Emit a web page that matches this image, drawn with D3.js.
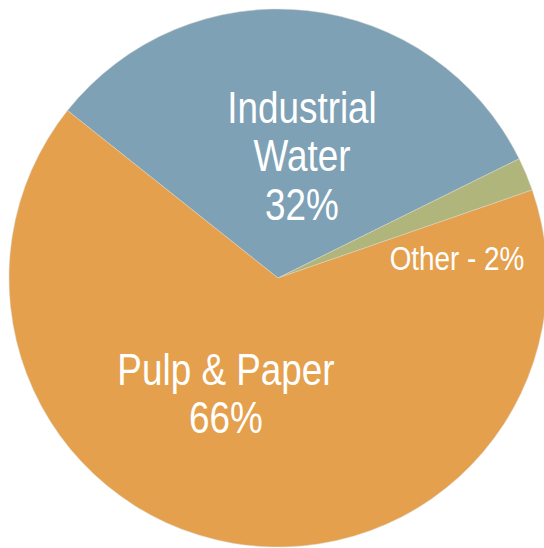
<!DOCTYPE html>
<html>
<head>
<meta charset="utf-8">
<script src="https://cdn.jsdelivr.net/npm/d3@7"></script>
<style>
  html, body { margin: 0; padding: 0; background: #fff; }
  svg { display: block; }
  text { font-family: "Liberation Sans", Arial, sans-serif; fill: #fff; }
</style>
</head>
<body>
<svg id="chart" width="544" height="548"></svg>
<script>
// Water use by sector (percent of total)
const categories = ["Industrial Water", "Other", "Pulp & Paper"];
const values = [32, 2, 66];
const colors = ["#7fa1b6", "#b0b57b", "#e4a04d"];
// label text lines per slice
const labelLines = [["Industrial", "Water", "32%"], ["Other - 2%"], ["Pulp & Paper", "66%"]];

const width = 544, height = 548;
const cx = 278, cy = 278, radius = 269;
const startDeg = -51.5;
const narrow = 0.82; // horizontal squeeze for a condensed look

// label anchor points (x, first baseline) and type sizes
const labelLayout = [
  { x: 302, y: 123, size: 45, lead: 48.5 },
  { x: 457, y: 270, size: 34, lead: 40 },
  { x: 226, y: 385, size: 45, lead: 48 }
];

const svg = d3.select("#chart");
const g = svg.append("g").attr("transform", `translate(${cx},${cy})`);

const start = startDeg * Math.PI / 180;
const pie = d3.pie()
  .sort(null)
  .value(d => d.value)
  .startAngle(start)
  .endAngle(start + 2 * Math.PI);

const data = categories.map((c, i) => ({ name: c, value: values[i], color: colors[i] }));
const arcs = pie(data);
const arc = d3.arc().innerRadius(0).outerRadius(radius);

g.selectAll("path.slice")
  .data(arcs)
  .join("path")
  .attr("class", "slice")
  .attr("d", arc)
  .attr("fill", d => d.data.color)
  .attr("stroke", "#d8d8d0")
  .attr("stroke-width", 0.5);

// slice labels
const labels = svg.append("g");
labelLines.forEach((lines, i) => {
  const L = labelLayout[i];
  const t = labels.append("text")
    .attr("transform", `translate(${L.x},${L.y}) scale(${narrow},1)`)
    .attr("text-anchor", "middle")
    .attr("font-size", L.size);
  lines.forEach((line, j) => {
    t.append("tspan")
      .attr("x", 0)
      .attr("y", j * L.lead)
      .text(line);
  });
});
</script>
</body>
</html>
